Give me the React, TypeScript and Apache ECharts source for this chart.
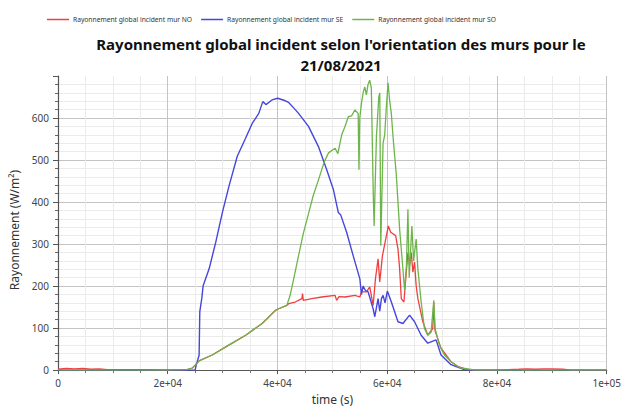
import React, { useEffect, useRef } from "react";
import * as echarts from "echarts";

const seriesNames = [
  "Rayonnement global incident mur NO",
  "Rayonnement global incident mur SE",
  "Rayonnement global incident mur SO",
];
const titleLine1 = "Rayonnement global incident selon l'orientation des murs pour le";
const titleLine2 = "21/08/2021";
const xTickLabels: Record<number, string> = { 0: "0", 20000: "2e+04", 40000: "4e+04", 60000: "6e+04", 80000: "8e+04", 100000: "1e+05" };

// NO wall (red)
const noT = [0, 1500, 3000, 4500, 6000, 7500, 9000, 12000, 16000, 20000, 23500, 24500, 25100, 25700, 28100, 31200, 34200, 37200, 39600, 40200, 41700, 42030, 43240, 44440, 44560, 44700, 46250, 48060, 50480, 50780, 51200, 52300, 54110, 55010, 55310, 56220, 56810, 57430, 57850, 58330, 58630, 59120, 59720, 60200, 60630, 61530, 61960, 62260, 62560, 63040, 63470, 63770, 64070, 64370, 64670, 64980, 65270, 65580, 66490, 67390, 68300, 68480, 68700, 69800, 71620, 72830, 74640, 76000, 80000, 84000, 85500, 87000, 88500, 90000, 92000, 93500, 100000];
const noV = [2, 4, 3, 4, 2, 3, 1, 1, 1, 0, 1, 5, 13, 22, 36, 60, 83, 111, 142, 146, 154, 158, 162, 170, 182, 166, 170, 174, 178, 166, 175, 174, 178, 174, 186, 186, 198, 154, 217, 265, 210, 272, 312, 343, 328, 320, 288, 241, 170, 162, 233, 280, 249, 280, 233, 257, 201, 170, 115, 83, 99, 162, 94, 52, 20, 9, 1, 0, 0, 2, 3, 2, 3, 3, 2, 0, 0];

// SE wall (blue)
const seT = [0, 10000, 20000, 25000, 25130, 25720, 25840, 26200, 26450, 27540, 28740, 29950, 31160, 32670, 34180, 35390, 36590, 37320, 37900, 39000, 40040, 41430, 42030, 43240, 43840, 45650, 47460, 48970, 50180, 51090, 51500, 52600, 53800, 55010, 55300, 55600, 56000, 56520, 57430, 57730, 58330, 58630, 58940, 59240, 59600, 60020, 60750, 61960, 62860, 64070, 64980, 66180, 67390, 68900, 69800, 71620, 74040, 75000, 100000];
const seV = [0, 0, 0, 0, 9, 36, 139, 170, 201, 241, 304, 375, 438, 509, 552, 587, 611, 639, 632, 643, 647, 641, 637, 620, 611, 580, 532, 477, 430, 375, 370, 328, 272, 217, 180, 200, 190, 186, 146, 127, 170, 140, 170, 178, 160, 188, 162, 115, 111, 131, 115, 83, 64, 72, 36, 13, 1, 0, 0];

// SO wall (green)
const soT = [0, 10000, 20000, 23500, 24500, 25100, 25700, 28100, 31200, 34200, 37200, 39600, 40200, 41700, 42300, 43000, 43800, 44700, 45700, 46500, 47500, 48500, 49300, 50500, 51000, 51700, 52300, 52900, 53500, 54100, 54700, 54850, 55000, 55300, 55600, 55900, 56200, 56500, 56800, 57100, 57450, 57610, 58030, 58460, 58640, 58820, 59240, 59540, 59840, 60150, 60450, 60750, 61050, 61650, 62260, 62860, 63160, 63500, 63770, 64000, 64490, 64800, 65270, 65580, 66180, 66780, 67390, 67990, 68480, 68700, 69500, 70400, 71620, 72800, 73430, 75000, 76000, 100000];
const soV = [0, 0, 0, 1, 5, 13, 22, 36, 60, 83, 111, 142, 146, 154, 178, 220, 270, 325, 375, 415, 454, 495, 517, 528, 515, 560, 580, 603, 605, 619, 611, 477, 600, 635, 660, 674, 655, 680, 690, 672, 420, 343, 556, 650, 660, 296, 540, 560, 627, 684, 640, 610, 556, 465, 335, 240, 190, 250, 383, 220, 343, 260, 312, 241, 162, 99, 83, 90, 166, 100, 60, 36, 20, 9, 5, 2, 0, 0];

const colors = ["#ee4040", "#4646dc", "#6db54a"];

const zip = (t: number[], v: number[]) => t.map((x, i) => [x, v[i]]);

export default function App() {
  const ref = useRef<HTMLDivElement>(null);
  useEffect(() => {
    if (!ref.current) return;
    const chart = echarts.init(ref.current, null, { renderer: "svg" });
    const font = "Noto Sans";
    const titleStyle = { fontFamily: font, fontWeight: "bold", fontSize: 15, lineHeight: 18, color: "#111" };
    chart.setOption({
      animation: false,
      color: colors,
      title: {
        text: titleLine1,
        subtext: titleLine2,
        left: 336,
        top: 30,
        itemGap: 3,
        textAlign: "center",
        textStyle: titleStyle,
        subtextStyle: titleStyle,
      },
      legend: {
        top: 11,
        left: 42,
        icon: "rect",
        itemWidth: 22,
        itemHeight: 1.5,
        itemGap: 9,
        textStyle: { fontFamily: font, fontSize: 6.7, color: "#333", padding: [0, 0, 0, -1] },
        data: seriesNames,
      },
      grid: { left: 58, right: 14, top: 76, bottom: 38 },
      xAxis: {
        type: "value",
        min: 0,
        max: 100000,
        interval: 20000,
        name: "time (s)",
        nameLocation: "middle",
        nameGap: 22,
        nameTextStyle: { fontFamily: font, fontSize: 12, color: "#333" },
        axisLine: { onZero: false, lineStyle: { color: "#555", width: 1.2 } },
        axisTick: { show: true, length: 4, lineStyle: { color: "#555" } },
        minorTick: { show: true, splitNumber: 4, length: 3, lineStyle: { color: "#777" } },
        axisLabel: {
          fontFamily: font,
          fontSize: 10,
          color: "#444",
          margin: 8,
          formatter: (v: number) => xTickLabels[v] ?? "",
        },
        splitLine: { show: true, lineStyle: { color: "#c4c4c4", width: 1 } },
        minorSplitLine: { show: true, lineStyle: { color: "#ebebeb", width: 1 } },
      },
      yAxis: {
        type: "value",
        min: 0,
        max: 700,
        interval: 100,
        offset: 5,
        name: "Rayonnement (W/m²)",
        nameLocation: "middle",
        nameGap: 33,
        nameTextStyle: { fontFamily: font, fontSize: 12, color: "#333", padding: [0, 0, 0, -14] },
        axisLine: { show: true, lineStyle: { color: "#555", width: 1.2 } },
        axisTick: { show: true, length: 5, lineStyle: { color: "#555" } },
        minorTick: { show: true, splitNumber: 5, length: 3, lineStyle: { color: "#666" } },
        axisLabel: {
          fontFamily: font,
          fontSize: 10,
          color: "#444",
          margin: 4,
          showMaxLabel: false,
        },
        splitLine: { show: true, showMaxLine: false, lineStyle: { color: "#c4c4c4", width: 1 } },
        minorSplitLine: { show: true, lineStyle: { color: "#ebebeb", width: 1 } },
      },
      series: [
        { name: seriesNames[0], type: "line", data: zip(noT, noV), showSymbol: false, symbol: "none", lineStyle: { width: 1.3 } },
        { name: seriesNames[1], type: "line", data: zip(seT, seV), showSymbol: false, symbol: "none", lineStyle: { width: 1.4 } },
        { name: seriesNames[2], type: "line", data: zip(soT, soV), showSymbol: false, symbol: "none", lineStyle: { width: 1.3 } },
      ],
    });
    return () => chart.dispose();
  }, []);
  return <div ref={ref} style={{ position: "fixed", left: 0, top: 0, width: 624, height: 410, background: "#fff" }} />;
}
